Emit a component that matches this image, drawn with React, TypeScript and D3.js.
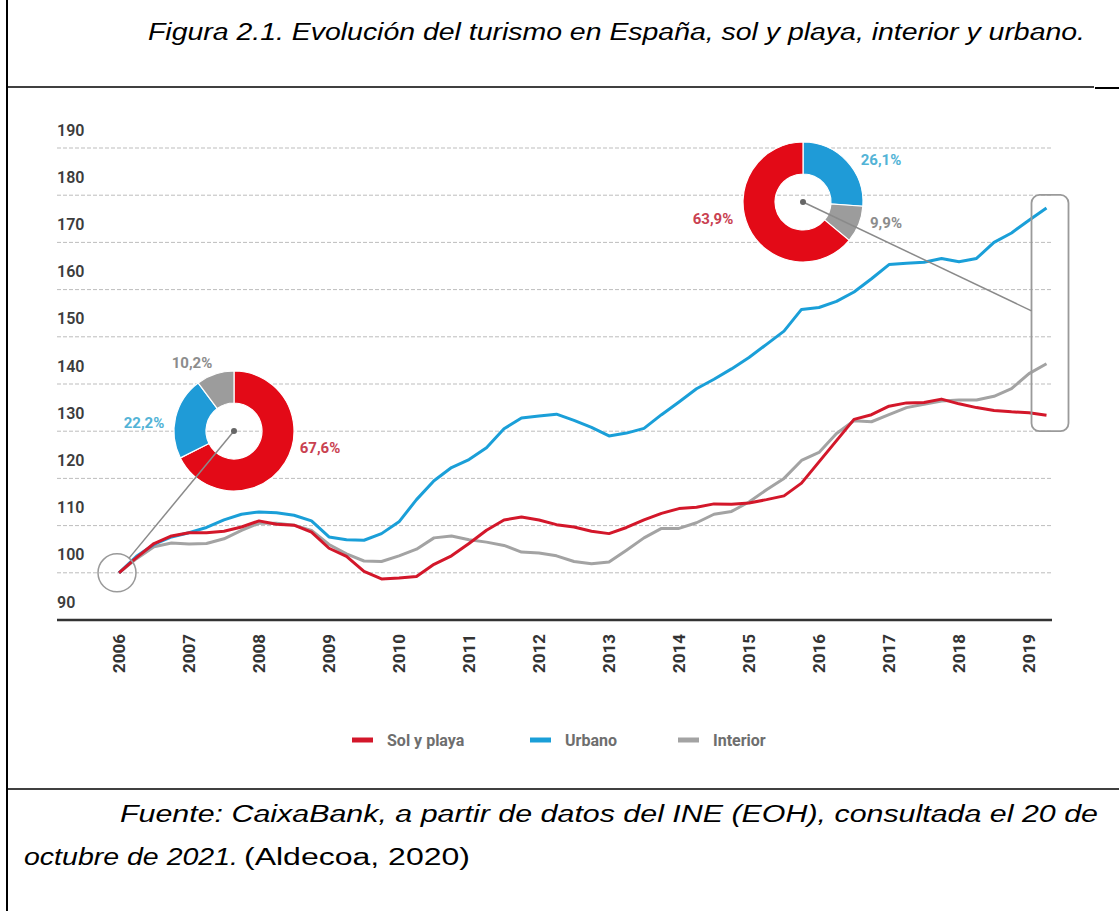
import * as d3 from "d3";

// quarterly observations, 2006 Q1 .. 2019 Q2 (index 2006 = 100)
const periods = d3.range(0, 54).map((i) => 2006 + i / 4);

const solYPlaya = [
  100, 103.2, 106.2, 107.8, 108.5, 108.5, 108.8, 109.7, 111, 110.3,
  110.1, 108.6, 105.2, 103.5, 100.3, 98.7, 98.9, 99.2, 101.8, 103.6,
  106.2, 109, 111.2, 111.8, 111.2, 110.2, 109.7, 108.8, 108.3, 109.6,
  111.2, 112.6, 113.6, 113.9, 114.6, 114.5, 114.8, 115.5, 116.3, 119,
  123.5, 128, 132.5, 133.5, 135.3, 136, 136.1, 136.8, 135.8, 135,
  134.4, 134.1, 133.9, 133.4,
];

const urbano = [
  100, 103.5, 106, 107.6, 108.5, 109.6, 111.2, 112.4, 112.9, 112.7,
  112.2, 111, 107.6, 107, 106.9, 108.3, 110.8, 115.5, 119.5, 122.3,
  124, 126.5, 130.5, 132.8, 133.2, 133.6, 132.3, 130.8, 129, 129.6,
  130.6, 133.5, 136.2, 139, 141, 143.2, 145.6, 148.4, 151.2, 155.8,
  156.2, 157.5, 159.5, 162.3, 165.3, 165.6, 165.8, 166.6, 165.9, 166.6,
  170, 172, 174.7, 177.3,
];

const interior = [
  100, 103, 105.5, 106.3, 106.1, 106.2, 107.2, 109, 110.5, 110.5,
  110.1, 109, 106, 104, 102.5, 102.4, 103.6, 105, 107.4, 107.8,
  107, 106.5, 105.8, 104.4, 104.2, 103.6, 102.4, 101.9, 102.3, 104.8,
  107.4, 109.4, 109.4, 110.6, 112.4, 113, 115, 117.6, 120, 123.8,
  125.5, 129.5, 132.2, 132, 133.5, 135, 135.7, 136.4, 136.6, 136.6,
  137.4, 139, 142.2, 144.3,
];

const yTicks = [90, 100, 110, 120, 130, 140, 150, 160, 170, 180, 190];
const years = d3.range(2006, 2020);

const seriesNames = ["Sol y playa", "Urbano", "Interior"];
const lineColors = ["#d3172a", "#1a9fd8", "#a3a3a3"];

// market shares shown in the two donuts
const share2006 = [
  { name: "Sol y playa", value: 67.6, label: "67,6%" },
  { name: "Urbano", value: 22.2, label: "22,2%" },
  { name: "Interior", value: 10.2, label: "10,2%" },
];
const share2019 = [
  { name: "Urbano", value: 26.1, label: "26,1%" },
  { name: "Interior", value: 9.9, label: "9,9%" },
  { name: "Sol y playa", value: 63.9, label: "63,9%" },
];

const donutFill: Record<string, string> = {
  "Sol y playa": "#e30a17",
  Urbano: "#1f9bd7",
  Interior: "#9c9c9c",
};
const donutText: Record<string, string> = {
  "Sol y playa": "#c94150",
  Urbano: "#52b3d6",
  Interior: "#8c8c8c",
};

const chartFont = "Roboto, 'Liberation Sans', sans-serif";
const docFont = "'Liberation Sans', Arial, sans-serif";

const Donut = ({ cx, cy, data, labelPos, target }) => {
  const pie = d3.pie<any>().sort(null).value((d) => d.value);
  const arc = d3.arc<any>().innerRadius(28).outerRadius(60);
  const arcs = pie(data);
  return (
    <g>
      <g transform={`translate(${cx},${cy})`}>
        {arcs.map((a, i) => (
          <path key={i} d={arc(a) || ""} fill={donutFill[a.data.name]} stroke="#fff" strokeWidth={1.2} />
        ))}
        {arcs.map((a, i) => (
          <text
            key={"l" + i}
            x={labelPos[i][0]}
            y={labelPos[i][1]}
            textAnchor="middle"
            dominantBaseline="central"
            fontFamily={chartFont}
            fontWeight={700}
            fontSize={15}
            fill={donutText[a.data.name]}
          >
            {a.data.label}
          </text>
        ))}
      </g>
      <line x1={cx} y1={cy} x2={target[0]} y2={target[1]} stroke="#8a8a8a" strokeWidth={1.5} />
      <circle cx={cx} cy={cy} r={3} fill="#666" />
    </g>
  );
};

export default function App() {
  const x = d3.scaleLinear().domain([2006, 2019]).range([119, 1029]);
  const y = d3.scaleLinear().domain([90, 190]).range([620, 148]);
  const plotLeft = 57;
  const plotRight = 1052;

  const line = d3
    .line<number>()
    .x((_, i) => x(periods[i]))
    .y((d) => y(d));

  const series = [solYPlaya, urbano, interior];

  // circle around the starting point and the bracket around the last values
  const startX = x(periods[0]) - 2;
  const startY = y(100);
  const startR = 19;
  const d1 = { cx: 234, cy: 431 };
  const ang = Math.atan2(d1.cy - startY, d1.cx - startX);
  const startTarget = [startX + startR * Math.cos(ang), startY + startR * Math.sin(ang)];

  const boxX = x(periods[periods.length - 1]) - 15;
  const boxTop = y(177.3) - 13;
  const boxBottom = y(130);

  const legendItems = [
    { name: seriesNames[0], color: lineColors[0], x: 352 },
    { name: seriesNames[1], color: lineColors[1], x: 530 },
    { name: seriesNames[2], color: lineColors[2], x: 678 },
  ];

  return (
    <svg
      width={1119}
      height={911}
      style={{ position: "absolute", left: 0, top: 0, background: "#fff" }}
    >
      {/* table borders */}
      <line x1={7} y1={0} x2={7} y2={911} stroke="#000" strokeWidth={2} />
      <line x1={7} y1={87} x2={1094} y2={87} stroke="#000" strokeWidth={1.5} />
      <line x1={1095} y1={88} x2={1119} y2={88} stroke="#000" strokeWidth={2} />
      <line x1={7} y1={789} x2={1119} y2={789} stroke="#000" strokeWidth={1.5} />

      <text
        x={148}
        y={40}
        fontFamily={docFont}
        fontStyle="italic"
        fontSize={23}
        textLength={937}
        lengthAdjust="spacingAndGlyphs"
        fill="#000"
      >
        Figura 2.1. Evolución del turismo en España, sol y playa, interior y urbano.
      </text>

      {/* grid */}
      {yTicks.slice(1).map((t) => (
        <line
          key={t}
          x1={plotLeft}
          x2={plotRight}
          y1={y(t)}
          y2={y(t)}
          stroke="#bdbdbd"
          strokeWidth={1}
          strokeDasharray="4 2"
        />
      ))}
      {yTicks.map((t) => (
        <text
          key={"yl" + t}
          x={plotLeft}
          y={y(t) - 18}
          dominantBaseline="central"
          fontFamily={chartFont}
          fontWeight={600}
          fontSize={16}
          fill="#3c3c3c"
        >
          {t}
        </text>
      ))}
      <line x1={plotLeft} x2={plotRight} y1={y(90)} y2={y(90)} stroke="#333" strokeWidth={2.5} />

      {years.map((yr) => (
        <text
          key={yr}
          transform={`translate(${x(yr)},${634}) rotate(-90)`}
          textAnchor="end"
          dominantBaseline="central"
          fontFamily={chartFont}
          fontWeight={700}
          fontSize={17}
          fill="#333"
        >
          {yr}
        </text>
      ))}

      {/* series */}
      {[2, 1, 0].map((k) => (
        <path
          key={k}
          d={line(series[k]) || ""}
          fill="none"
          stroke={lineColors[k]}
          strokeWidth={3}
          strokeLinejoin="round"
        />
      ))}

      <circle cx={startX} cy={startY} r={startR} fill="none" stroke="#9a9a9a" strokeWidth={1.5} />
      <rect
        x={boxX}
        y={boxTop}
        width={37}
        height={boxBottom - boxTop}
        rx={8}
        fill="none"
        stroke="#9a9a9a"
        strokeWidth={1.8}
      />

      <Donut
        cx={d1.cx}
        cy={d1.cy}
        data={share2006}
        labelPos={[
          [86, 17],
          [-90, -8],
          [-42, -68],
        ]}
        target={startTarget}
      />
      <Donut
        cx={803}
        cy={202}
        data={share2019}
        labelPos={[
          [78, -42],
          [83, 21],
          [-90, 17],
        ]}
        target={[boxX, y(155.5)]}
      />

      {/* legend */}
      {legendItems.map((it) => (
        <g key={it.name}>
          <line x1={it.x} x2={it.x + 21} y1={740} y2={740} stroke={it.color} strokeWidth={5} />
          <text
            x={it.x + 35}
            y={740}
            dominantBaseline="central"
            fontFamily={chartFont}
            fontWeight={700}
            fontSize={16}
            fill="#6e6e6e"
          >
            {it.name}
          </text>
        </g>
      ))}

      {/* source */}
      <text
        x={120}
        y={822}
        fontFamily={docFont}
        fontStyle="italic"
        fontSize={23}
        textLength={978}
        lengthAdjust="spacingAndGlyphs"
        fill="#000"
      >
        Fuente: CaixaBank, a partir de datos del INE (EOH), consultada el 20 de
      </text>
      <text x={24} y={865} fontFamily={docFont} fontSize={23} fill="#000">
        <tspan fontStyle="italic" textLength={214} lengthAdjust="spacingAndGlyphs">
          octubre de 2021.
        </tspan>
        <tspan x={244} textLength={226} lengthAdjust="spacingAndGlyphs">
          (Aldecoa, 2020)
        </tspan>
      </text>
    </svg>
  );
}
